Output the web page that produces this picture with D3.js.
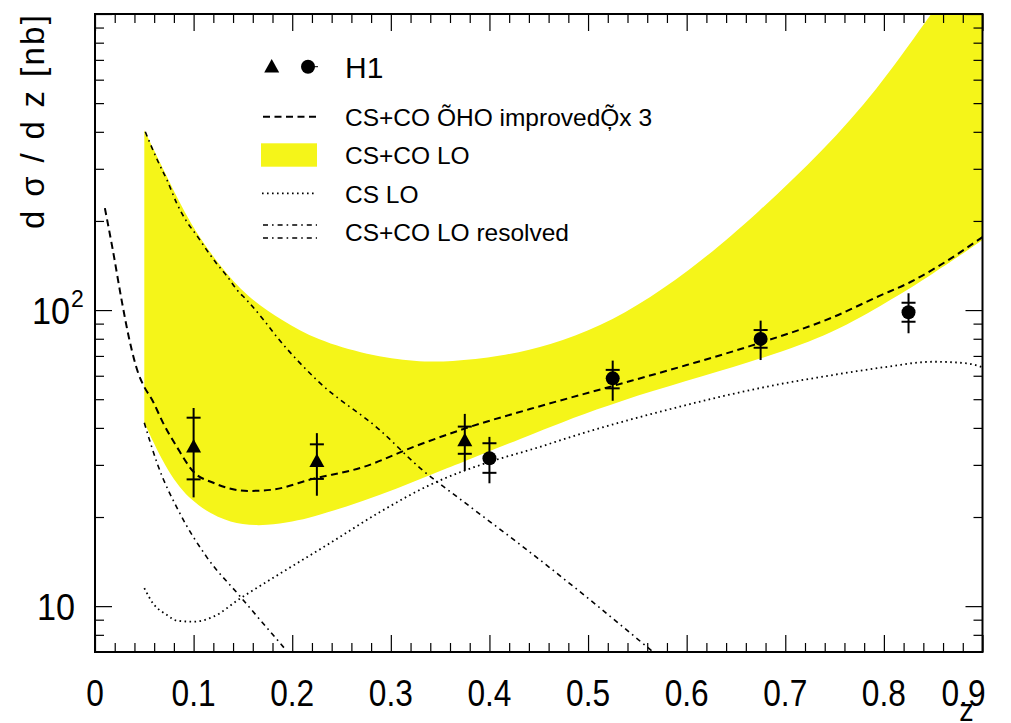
<!DOCTYPE html>
<html><head><meta charset="utf-8">
<script src="https://cdn.jsdelivr.net/npm/d3@7"></script>
<style>
body{margin:0;background:#fff}
svg{display:block}
text{font-family:"Liberation Sans",Arial,Helvetica,sans-serif;fill:#000}
</style>
</head><body>
<svg id="chart" width="1011" height="723"></svg>
<script>
// ---------- data ----------
const xMajorTicks = [0, 0.1, 0.2, 0.3, 0.4, 0.5, 0.6, 0.7, 0.8, 0.9];
const xTickLabels = ["0", "0.1", "0.2", "0.3", "0.4", "0.5", "0.6", "0.7", "0.8", "0.9"];
const yMajorTicks = [10, 100, 1000];
const yMinorTicks = [8, 9, 20, 30, 40, 50, 60, 70, 80, 90, 200, 300, 400, 500, 600, 700, 800, 900];

// H1 data, triangles
const triZ = [0.1, 0.225, 0.375];
const triV = [34.5, 30.8, 36.2];
const triStatLo = [26.8, 26.9, 32.7];
const triStatHi = [43.3, 35.2, 40.4];
const triTotLo = [23.3, 23.6, 28.7];
const triTotHi = [46.7, 38.4, 44.6];
// H1 data, circles
const circZ = [0.4, 0.525, 0.675, 0.825];
const circV = [31.6, 58.8, 79.9, 98.3];
const circStatLo = [28.2, 54.4, 74.6, 91.3];
const circStatHi = [35.5, 62.8, 85.6, 105.9];
const circTotLo = [26.0, 49.4, 67.8, 83.5];
const circTotHi = [37.3, 67.5, 92.1, 113.9];

// CS+CO (NLO improved) x 3 : dashed
const nloZ = [0.01, 0.018, 0.027, 0.035, 0.044, 0.05, 0.058, 0.069, 0.083, 0.1, 0.12, 0.155, 0.178, 0.221, 0.272, 0.323, 0.377, 0.441, 0.525, 0.6, 0.674, 0.749, 0.793, 0.827, 0.854, 0.9];
const nloV = [221, 160, 108, 79, 61, 55, 49.7, 41.6, 34.5, 28.4, 26.1, 24.5, 24.7, 26.9, 29.5, 34.5, 40.0, 46.3, 55.4, 65.2, 77.4, 94.8, 110.7, 124.4, 139.8, 176.5];

// CS+CO LO band (yellow)
const bandUpZ = [0.05, 0.073, 0.096, 0.127, 0.154, 0.19, 0.225, 0.276, 0.326, 0.36, 0.411, 0.462, 0.512, 0.563, 0.614, 0.671, 0.739, 0.793, 0.84, 0.9];
const bandUpV = [405, 282, 196, 140, 111, 92, 79.2, 70.5, 66.9, 66.9, 69.6, 76.2, 87.8, 109.6, 145.3, 211, 347, 554, 918, 1750];
const bandLoZ = [0.05, 0.074, 0.098, 0.125, 0.15, 0.174, 0.201, 0.221, 0.255, 0.289, 0.323, 0.357, 0.39, 0.441, 0.525, 0.674, 0.749, 0.806, 0.84, 0.9];
const bandLoV = [41.6, 28.1, 22.5, 19.8, 18.8, 18.7, 19.3, 20.0, 21.7, 23.7, 26.3, 29.2, 32.4, 37.8, 49.0, 67.8, 83.5, 108, 126, 172.5];

// CS LO : dotted
const csZ = [0.05, 0.059, 0.073, 0.083, 0.1, 0.12, 0.147, 0.188, 0.238, 0.289, 0.34, 0.4, 0.441, 0.505, 0.58, 0.681, 0.749, 0.8, 0.85, 0.884, 0.9];
const csV = [11.5, 10.2, 9.34, 8.93, 8.86, 9.21, 10.6, 12.9, 16.3, 20.8, 25.7, 30.7, 33.7, 39.3, 46.0, 55.1, 60.4, 64.1, 66.9, 66.1, 64.1];

// CS+CO LO resolved : dash-dotted (upper and lower)
const resUpZ = [0.051, 0.064, 0.073, 0.083, 0.093, 0.103, 0.113, 0.123, 0.134, 0.144, 0.154, 0.171, 0.184, 0.225, 0.289, 0.33, 0.374, 0.438, 0.502, 0.566];
const resUpV = [400, 317, 275, 229, 199, 179, 160, 144, 130, 117, 108, 92.6, 81.5, 58.0, 39.3, 29.2, 22.5, 15.5, 10.5, 7.0];
const resLoZ = [0.05, 0.063, 0.086, 0.113, 0.147, 0.193];
const resLoV = [41.6, 30.4, 20.6, 14.7, 10.8, 7.15];

const legendLabels = ["H1", "CS+CO ÕHO improvedÕ̦x 3", "CS+CO LO", "CS LO", "CS+CO LO resolved"];

// ---------- layout ----------
const L = 95, R = 982.5, T = 14, B = 652;
const x = d3.scaleLinear().domain([0, 0.9]).range([L, R]);
const y = d3.scaleLog().domain([7, 1000]).range([B, T]);
const YELLOW = "#f5f519";

const svg = d3.select("#chart");
svg.append("defs").append("clipPath").attr("id", "clip")
  .append("rect").attr("x", L).attr("y", T).attr("width", R - L).attr("height", B - T);
const plot = svg.append("g").attr("clip-path", "url(#clip)");

const pts = (zs, vs) => zs.map((z, i) => [x(z), y(vs[i])]);
const line = d3.line().curve(d3.curveMonotoneX);
const smooth = d3.line().curve(d3.curveBasis);

// band
const upPath = smooth(pts(bandUpZ, bandUpV));
const loPath = smooth(pts(bandLoZ, bandLoV).reverse());
plot.append("path").attr("d", upPath + "L" + loPath.slice(1) + "Z")
  .attr("fill", YELLOW).attr("stroke", "none");

// curves
plot.append("path").attr("d", line(pts(csZ, csV)))
  .attr("fill", "none").attr("stroke", "#000").attr("stroke-width", 1.8)
  .attr("stroke-dasharray", "1.6,3.4");
[[resUpZ, resUpV], [resLoZ, resLoV]].forEach(([zs, vs]) => {
  plot.append("path").attr("d", line(pts(zs, vs)))
    .attr("fill", "none").attr("stroke", "#000").attr("stroke-width", 1.6)
    .attr("stroke-dasharray", "5,4,1.6,4");
});
plot.append("path").attr("d", line(pts(nloZ, nloV)))
  .attr("fill", "none").attr("stroke", "#000").attr("stroke-width", 2)
  .attr("stroke-dasharray", "7,4.5");

// data points with error bars
function errBars(zs, sLo, sHi, tLo, tHi) {
  const g = plot.append("g").attr("stroke", "#000").attr("stroke-width", 2);
  zs.forEach((z, i) => {
    const cx = x(z);
    g.append("line").attr("x1", cx).attr("x2", cx).attr("y1", y(tLo[i])).attr("y2", y(tHi[i]));
    [sLo[i], sHi[i]].forEach(v => {
      g.append("line").attr("x1", cx - 7).attr("x2", cx + 7).attr("y1", y(v)).attr("y2", y(v));
    });
  });
}
errBars(triZ, triStatLo, triStatHi, triTotLo, triTotHi);
errBars(circZ, circStatLo, circStatHi, circTotLo, circTotHi);
const triPath = (cx, cy) => `M${cx},${cy - 8}L${cx + 7.5},${cy + 5.5}L${cx - 7.5},${cy + 5.5}Z`;
triZ.forEach((z, i) => plot.append("path").attr("d", triPath(x(z), y(triV[i]))).attr("fill", "#000"));
circZ.forEach((z, i) => plot.append("circle").attr("cx", x(z)).attr("cy", y(circV[i])).attr("r", 7).attr("fill", "#000"));

// ---------- axes ----------
const xMinor = d3.range(0, 0.9001, 0.02).filter(v => Math.abs(v * 10 - Math.round(v * 10)) > 1e-6);
function addAxis(gen, tr) { const g = svg.append("g").attr("transform", tr).call(gen); g.select(".domain").remove(); g.selectAll("text").remove(); g.selectAll("line").attr("stroke", "#000").attr("stroke-width", 1.2); return g; }
addAxis(d3.axisBottom(x).tickValues(xMajorTicks).tickSize(-17), `translate(0,${B})`);
addAxis(d3.axisBottom(x).tickValues(xMinor).tickSize(-9), `translate(0,${B})`);
addAxis(d3.axisTop(x).tickValues(xMajorTicks).tickSize(-17), `translate(0,${T})`);
addAxis(d3.axisTop(x).tickValues(xMinor).tickSize(-9), `translate(0,${T})`);
addAxis(d3.axisLeft(y).tickValues(yMajorTicks).tickSize(-17), `translate(${L},0)`);
addAxis(d3.axisLeft(y).tickValues(yMinorTicks).tickSize(-9), `translate(${L},0)`);
addAxis(d3.axisRight(y).tickValues(yMajorTicks).tickSize(-17), `translate(${R},0)`);
addAxis(d3.axisRight(y).tickValues(yMinorTicks).tickSize(-9), `translate(${R},0)`);

// frame
svg.append("rect").attr("x", L).attr("y", T).attr("width", R - L).attr("height", B - T)
  .attr("fill", "none").attr("stroke", "#000").attr("stroke-width", 2);

// condensed text helper
function condensed(t, k) {
  const w = t.node().getComputedTextLength();
  t.attr("textLength", w * k).attr("lengthAdjust", "spacingAndGlyphs");
  return t;
}

// x tick labels
xMajorTicks.forEach((v, i) => {
  const last = i === xMajorTicks.length - 1;
  const t = svg.append("text").attr("x", last ? x(v) - 19 : x(v)).attr("y", 706).attr("text-anchor", "middle")
    .attr("font-size", 36).text(xTickLabels[i]);
  condensed(t, 0.88);
});
condensed(svg.append("text").attr("x", x(0.9) - 16).attr("y", 721).attr("text-anchor", "middle")
  .attr("font-size", 32).text("z"), 0.9);

// y tick labels
condensed(svg.append("text").attr("x", 75).attr("y", y(10) + 14).attr("text-anchor", "end")
  .attr("font-size", 36).text("10"), 0.95);
condensed(svg.append("text").attr("x", 70).attr("y", y(100) + 14).attr("text-anchor", "end")
  .attr("font-size", 36).text("10"), 0.95);
svg.append("text").attr("x", 71).attr("y", y(100) - 3).attr("text-anchor", "start")
  .attr("font-size", 23).text("2");

// y title
svg.append("text").attr("transform", "translate(44,122) rotate(-90)")
  .attr("text-anchor", "middle").attr("font-size", 33)
  .attr("textLength", 214).attr("lengthAdjust", "spacing")
  .text("d σ / d z [nb]");

// ---------- legend ----------
const lg = svg.append("g");
lg.append("path").attr("d", triPath(271.7, 67)).attr("fill", "#000");
lg.append("circle").attr("cx", 308).attr("cy", 66.7).attr("r", 7).attr("fill", "#000");
lg.append("line").attr("x1", 314).attr("x2", 318).attr("y1", 66.7).attr("y2", 66.7).attr("stroke", "#000").attr("stroke-width", 1);
lg.append("text").attr("x", 345).attr("y", 77.5).attr("font-size", 30).text(legendLabels[0]);

lg.append("line").attr("x1", 263).attr("x2", 317).attr("y1", 116.7).attr("y2", 116.7)
  .attr("stroke", "#000").attr("stroke-width", 2).attr("stroke-dasharray", "7,4.5");
lg.append("text").attr("x", 345).attr("y", 126).attr("font-size", 24.5).text(legendLabels[1]);

lg.append("rect").attr("x", 261).attr("y", 143.3).attr("width", 56).attr("height", 23.4).attr("fill", YELLOW);
lg.append("text").attr("x", 345).attr("y", 164).attr("font-size", 24.5).text(legendLabels[2]);

lg.append("line").attr("x1", 262).attr("x2", 317).attr("y1", 193.3).attr("y2", 193.3)
  .attr("stroke", "#000").attr("stroke-width", 1.8).attr("stroke-dasharray", "1.6,3.4");
lg.append("text").attr("x", 345).attr("y", 202.5).attr("font-size", 24.5).text(legendLabels[3]);

[225, 238].forEach(yy => {
  lg.append("line").attr("x1", 263).attr("x2", 317).attr("y1", yy).attr("y2", yy)
    .attr("stroke", "#000").attr("stroke-width", 1.6).attr("stroke-dasharray", "5,4,1.6,4");
});
lg.append("text").attr("x", 345).attr("y", 240.5).attr("font-size", 24.5).text(legendLabels[4]);
</script>
</body></html>
